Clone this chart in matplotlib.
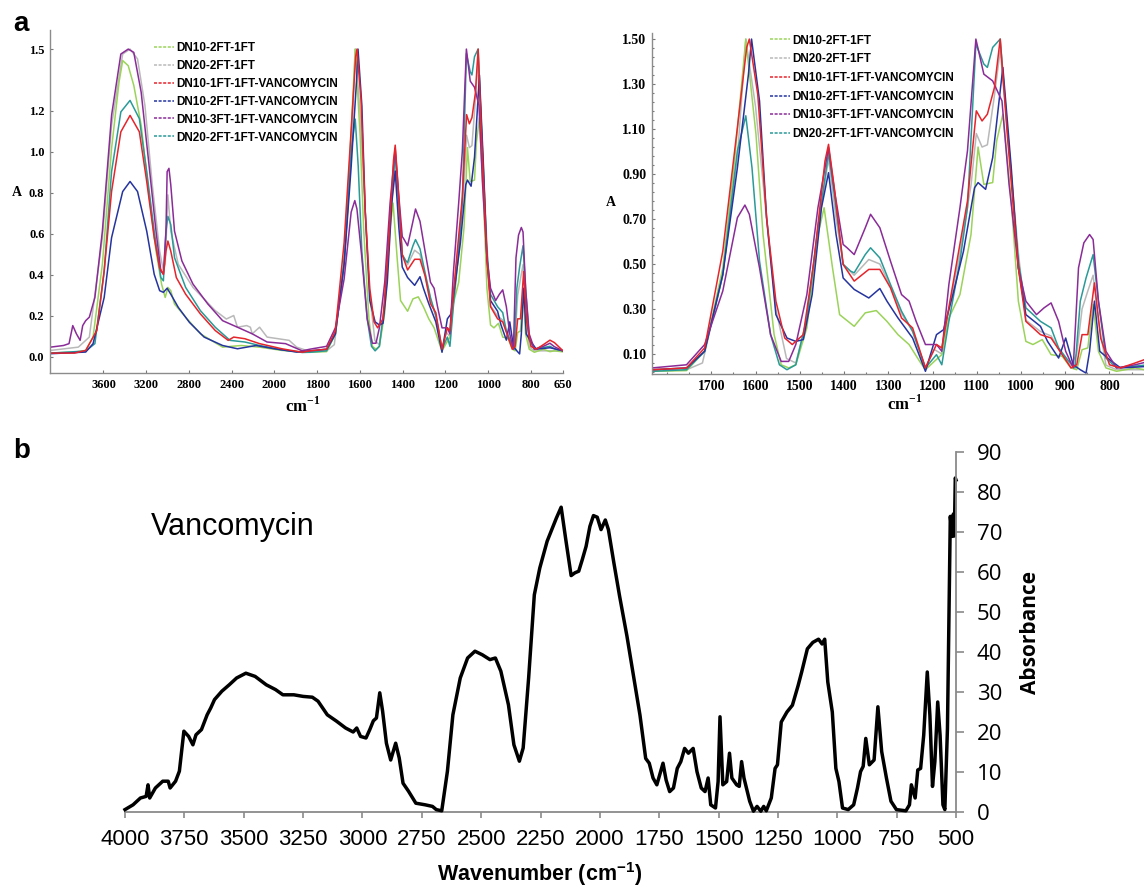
import numpy as np
import matplotlib
matplotlib.use('Agg')
import matplotlib.pyplot as plt
from matplotlib.lines import Line2D
from matplotlib.ticker import AutoMinorLocator, MultipleLocator

plt.rcParams['mathtext.fontset'] = 'custom'
plt.rcParams['mathtext.bf'] = 'Liberation Serif:bold'
plt.rcParams['mathtext.sf'] = 'Liberation Sans:bold'

# ---- data (a): FTIR spectra, wavenumber (cm-1) / absorbance ----
labels = ['DN10-2FT-1FT', 'DN20-2FT-1FT', 'DN10-1FT-1FT-VANCOMYCIN',
          'DN10-2FT-1FT-VANCOMYCIN', 'DN10-3FT-1FT-VANCOMYCIN',
          'DN20-2FT-1FT-VANCOMYCIN']
colors = ['#9bd35a', '#b9b9b9', '#e5242b', '#25349e', '#8a2c98', '#2a9a98']

wn_green = [4095, 3870, 3766, 3697, 3610, 3524, 3454, 3420, 3368, 3316, 3247, 3177, 3108, 3056, 3022, 2997, 2970, 2935,
            2831, 2693, 2485, 2312, 2139, 1965, 1870,
            1834, 1756, 1715, 1674, 1649, 1622, 1599, 1583, 1558, 1542, 1525, 1509, 1484, 1459, 1445, 1426, 1410, 1377,
            1352, 1327, 1303, 1278, 1253, 1229, 1216, 1196, 1179, 1163, 1138, 1113, 1097, 1084, 1064, 1055, 1041, 1022,
            1006, 989, 973, 952, 932, 907, 887, 874, 862, 849, 837, 825, 808, 784, 742, 711, 690, 650]
a_green = [0.019, 0.024, 0.032, 0.097, 0.452, 1.016, 1.339, 1.444, 1.419, 1.323, 1.129, 0.806, 0.516, 0.355, 0.29, 0.339,
           0.323, 0.258, 0.194, 0.113, 0.048, 0.056, 0.048, 0.032, 0.025,
           0.023, 0.026, 0.112, 0.483, 0.928, 1.50, 1.077, 0.631, 0.186, 0.052, 0.038, 0.052, 0.216, 0.631, 0.75, 0.483,
           0.275, 0.223, 0.283, 0.293, 0.245, 0.186, 0.142, 0.067, 0.030, 0.067, 0.097, 0.260, 0.364, 0.631, 1.02, 0.854,
           0.862, 1.047, 1.166, 0.780, 0.335, 0.156, 0.142, 0.164, 0.097, 0.090, 0.038, 0.030, 0.119, 0.127, 0.320,
           0.112, 0.038, 0.023, 0.038, 0.026, 0.030, 0.025]

wn_gray = [4095, 3835, 3732, 3610, 3524, 3420, 3351, 3281, 3212, 3143, 3074, 3039, 3022, 2997, 2970, 2900, 2762, 2554,
           2450, 2381, 2346, 2260, 2225, 2208, 2139, 2069, 1931, 1896, 1850,
           1834, 1756, 1720, 1674, 1640, 1622, 1600, 1575, 1554, 1530, 1509, 1484, 1459, 1435, 1418, 1402, 1377, 1344,
           1319, 1295, 1270, 1245, 1216, 1196, 1179, 1163, 1138, 1113, 1101, 1088, 1076, 1060, 1047, 1031, 1006, 989,
           956, 932, 907, 887, 874, 862, 849, 837, 825, 808, 784, 742, 711, 650]
a_gray = [0.032, 0.048, 0.097, 0.581, 1.129, 1.476, 1.50, 1.452, 1.226, 0.839, 0.516, 0.419, 0.452, 0.790, 0.613, 0.452,
          0.339, 0.226, 0.185, 0.202, 0.145, 0.153, 0.145, 0.113, 0.145, 0.097, 0.081, 0.048, 0.032,
          0.030, 0.030, 0.06, 0.45, 1.0, 1.5, 1.2, 0.7, 0.3, 0.08, 0.06, 0.25, 0.65, 0.97, 0.7, 0.5, 0.45, 0.52, 0.5,
          0.4, 0.28, 0.2, 0.04, 0.12, 0.1, 0.3, 0.55, 0.85, 1.08, 1.02, 1.03, 1.25, 1.45, 1.1, 0.55, 0.25, 0.2, 0.18,
          0.1, 0.05, 0.1, 0.3, 0.38, 0.45, 0.25, 0.05, 0.03, 0.03, 0.03, 0.03]

wn_red = [4095, 3870, 3766, 3662, 3593, 3524, 3437, 3351, 3264, 3195, 3125, 3074, 3039, 3015, 2997, 2970, 2918, 2831,
          2693, 2554, 2433, 2381, 2277, 2139, 1965, 1870,
          1834, 1756, 1715, 1674, 1641, 1620, 1614, 1595, 1575, 1554, 1534, 1517, 1492, 1468, 1443, 1435, 1422, 1402,
          1377, 1344, 1319, 1295, 1270, 1245, 1216, 1191, 1179, 1154, 1121, 1101, 1088, 1076, 1060, 1047, 1031, 1006,
          989, 956, 932, 907, 887, 874, 862, 849, 834, 820, 800, 775, 742, 711, 690, 650]
a_red = [0.019, 0.019, 0.032, 0.129, 0.419, 0.806, 1.097, 1.177, 1.097, 0.855, 0.581, 0.435, 0.403, 0.516, 0.565, 0.516,
         0.387, 0.306, 0.210, 0.129, 0.081, 0.097, 0.089, 0.065, 0.040, 0.023,
         0.030, 0.038, 0.127, 0.557, 1.107, 1.463, 1.50, 1.255, 0.706, 0.335, 0.171, 0.142, 0.186, 0.513, 0.958, 1.032,
         0.839, 0.498, 0.424, 0.476, 0.476, 0.394, 0.260, 0.216, 0.038, 0.142, 0.127, 0.409, 0.780, 1.181, 1.136,
         1.166, 1.285, 1.50, 1.077, 0.483, 0.245, 0.186, 0.171, 0.097, 0.038, 0.052, 0.186, 0.186, 0.416, 0.171,
         0.052, 0.038, 0.060, 0.082, 0.07, 0.03]

wn_blue = [4095, 3766, 3697, 3593, 3524, 3420, 3351, 3281, 3195, 3125, 3074, 3039, 3004, 2970, 2900, 2796, 2658, 2485,
           2346, 2173, 2000, 1896,
           1834, 1756, 1715, 1674, 1641, 1616, 1609, 1591, 1575, 1554, 1529, 1509, 1492, 1472, 1451, 1435, 1418, 1402,
           1377, 1344, 1319, 1303, 1278, 1245, 1216, 1191, 1175, 1154, 1130, 1105, 1097, 1080, 1064, 1041, 1022, 1006,
           989, 956, 940, 915, 899, 882, 866, 853, 845, 834, 822, 800, 775, 711, 690, 650]
a_blue = [0.016, 0.024, 0.065, 0.290, 0.581, 0.806, 0.855, 0.806, 0.613, 0.403, 0.323, 0.315, 0.335, 0.306, 0.242,
          0.169, 0.097, 0.056, 0.040, 0.056, 0.040, 0.024,
          0.030, 0.038, 0.112, 0.453, 0.928, 1.344, 1.50, 1.225, 0.706, 0.275, 0.171, 0.156, 0.164, 0.364, 0.750, 0.906,
          0.631, 0.438, 0.387, 0.349, 0.391, 0.335, 0.260, 0.171, 0.023, 0.186, 0.208, 0.364, 0.557, 0.839, 0.862,
          0.832, 0.973, 1.374, 0.928, 0.483, 0.275, 0.223, 0.156, 0.082, 0.171, 0.052, 0.030, 0.015, 0.112, 0.335,
          0.112, 0.075, 0.038, 0.045, 0.04, 0.03]

wn_purple = [4095, 3974, 3922, 3887, 3853, 3818, 3794, 3766, 3732, 3680, 3610, 3524, 3437, 3368, 3316, 3247, 3177, 3108,
             3063, 3039, 3015, 3004, 2987, 2970, 2935, 2866, 2762, 2623, 2485, 2346, 2208, 2069, 1948, 1870,
             1834, 1756, 1715, 1674, 1641, 1624, 1614, 1591, 1566, 1542, 1525, 1509, 1484, 1459, 1435, 1422, 1402,
             1393, 1377, 1352, 1340, 1319, 1295, 1270, 1253, 1237, 1216, 1191, 1179, 1163, 1138, 1121, 1102, 1084,
             1064, 1043, 1027, 1006, 989, 965, 948, 932, 915, 899, 882, 870, 858, 845, 837, 825, 808, 784, 742, 711,
             690, 650]
a_purple = [0.048, 0.056, 0.065, 0.153, 0.113, 0.081, 0.153, 0.177, 0.194, 0.290, 0.613, 1.177, 1.476, 1.50, 1.484,
            1.290, 0.952, 0.613, 0.419, 0.403, 0.613, 0.903, 0.919, 0.839, 0.613, 0.468, 0.355, 0.258, 0.177, 0.145,
            0.113, 0.073, 0.065, 0.03,
            0.038, 0.052, 0.142, 0.380, 0.706, 0.762, 0.721, 0.483, 0.186, 0.067, 0.067, 0.142, 0.364, 0.750, 1.017,
            0.832, 0.587, 0.572, 0.542, 0.661, 0.721, 0.661, 0.513, 0.364, 0.335, 0.245, 0.142, 0.142, 0.112, 0.409,
            0.750, 1.003, 1.50, 1.344, 1.314, 1.225, 0.854, 0.483, 0.335, 0.275, 0.305, 0.327, 0.245, 0.112, 0.038,
            0.483, 0.594, 0.631, 0.609, 0.335, 0.112, 0.038, 0.052, 0.067, 0.05, 0.03]

wn_teal = [4095, 3766, 3680, 3593, 3524, 3437, 3351, 3264, 3195, 3125, 3063, 3039, 3015, 2997, 2970, 2935, 2831, 2693,
           2554, 2416, 2277, 2139, 1965, 1870,
           1834, 1756, 1715, 1674, 1641, 1622, 1608, 1591, 1566, 1546, 1529, 1509, 1484, 1459, 1435, 1422, 1402, 1385,
           1377, 1352, 1340, 1319, 1295, 1270, 1245, 1216, 1191, 1179, 1163, 1138, 1121, 1102, 1084, 1076, 1064, 1047,
           1031, 1006, 989, 956, 932, 915, 895, 878, 866, 853, 837, 825, 808, 784, 711, 690, 650]
a_teal = [0.019, 0.029, 0.065, 0.419, 0.903, 1.194, 1.25, 1.161, 0.903, 0.613, 0.387, 0.371, 0.613, 0.685, 0.645, 0.484,
          0.339, 0.226, 0.145, 0.081, 0.073, 0.056, 0.035, 0.022,
          0.023, 0.030, 0.112, 0.453, 1.003, 1.159, 0.928, 0.513, 0.186, 0.052, 0.030, 0.052, 0.260, 0.661, 0.995,
          0.810, 0.498, 0.468, 0.461, 0.542, 0.572, 0.527, 0.409, 0.290, 0.201, 0.038, 0.097, 0.052, 0.245, 0.513,
          0.750, 1.478, 1.389, 1.374, 1.463, 1.50, 1.107, 0.513, 0.305, 0.245, 0.216, 0.127, 0.075, 0.038, 0.335,
          0.438, 0.542, 0.335, 0.082, 0.038, 0.052, 0.04, 0.03]

# ---- data (b): vancomycin ----
wn_vanc = [4000, 3966, 3935, 3911, 3903, 3896, 3872, 3841, 3818, 3810, 3787, 3771, 3752, 3732, 3714, 3701, 3678, 3654,
           3639, 3623, 3592, 3561, 3530, 3491, 3452, 3405, 3366, 3335, 3289, 3250, 3211, 3187, 3148, 3109, 3071, 3039,
           3024, 3008, 2985, 2969, 2954, 2941, 2927, 2915, 2899, 2881, 2860, 2845, 2829, 2806, 2775, 2736, 2705, 2689,
           2666, 2642, 2619, 2588, 2557, 2526, 2495, 2463, 2440, 2417, 2385, 2362, 2339, 2323, 2300, 2276, 2253, 2222,
           2183, 2163, 2144, 2121, 2105, 2089, 2074, 2058, 2042, 2027, 2011, 1995, 1977, 1964, 1941, 1917, 1886, 1854,
           1831, 1807, 1792, 1776, 1760, 1748, 1734, 1721, 1706, 1690, 1674, 1659, 1643, 1627, 1607, 1591, 1573, 1557,
           1544, 1533, 1513, 1502, 1494, 1482, 1466, 1454, 1444, 1424, 1413, 1403, 1393, 1369, 1353, 1338, 1322, 1310,
           1299, 1278, 1262, 1252, 1236, 1212, 1189, 1165, 1150, 1126, 1103, 1079, 1064, 1053, 1040, 1021, 1006, 993,
           978, 954, 931, 915, 902, 891, 880, 865, 845, 829, 813, 793, 774, 751, 711, 696, 688, 672, 661, 649, 636,
           621, 610, 599, 589, 577, 567, 555, 547, 536, 524, 516, 511, 507, 503, 500]
abs_vanc = [0.6, 1.8, 3.5, 3.9, 6.8, 3.5, 6.0, 7.7, 7.7, 6.0, 7.7, 10.2, 20.2, 18.9, 16.8, 19.3, 20.6, 24.3, 26.0, 28.1,
            30.2, 31.8, 33.5, 34.7, 33.9, 31.8, 30.6, 29.3, 29.3, 28.9, 28.7, 27.7, 24.3, 22.7, 21.0, 20.0, 21.0, 18.9,
            18.5, 20.6, 22.8, 23.5, 29.8, 25.2, 17.2, 13.0, 17.2, 13.5, 7.2, 5.2, 2.2, 1.8, 1.4, 0.6, 0.3, 10.2, 24.3,
            33.5, 38.5, 40.2, 39.3, 38.1, 38.5, 35.2, 26.8, 16.8, 12.7, 16.0, 33.5, 54.3, 61.0, 67.7, 73.5, 76.2, 68.3,
            59.1, 59.8, 60.2, 63.1, 66.4, 71.4, 74.1, 73.7, 70.6, 73.0, 70.6, 62.3, 54.0, 44.0, 32.5, 24.2, 13.4, 12.2,
            8.5, 6.8, 9.3, 12.2, 8.0, 5.1, 6.0, 10.9, 12.6, 15.9, 14.7, 15.9, 10.1, 6.0, 5.1, 8.5, 1.8, 1.0, 7.6, 23.8,
            6.8, 7.6, 14.7, 8.5, 6.8, 6.4, 12.6, 8.5, 2.7, 0.2, 1.4, 0.2, 1.4, 0.3, 3.5, 10.9, 11.8, 22.5, 25.0, 26.7,
            31.6, 35.0, 40.8, 42.4, 43.2, 42.0, 43.2, 32.5, 25.0, 10.9, 7.6, 1.0, 0.6, 1.8, 6.0, 10.1, 11.4, 18.4, 11.8,
            13.0, 26.3, 15.1, 8.5, 2.7, 0.6, 0.3, 1.8, 6.8, 3.5, 10.5, 10.9, 19.2, 35.0, 24.2, 6.4, 12.6, 27.5, 19.2,
            1.8, 0.6, 20.9, 73.9, 68.9, 74.5, 69.0, 83.5, 83.0]

# ---- layout helpers (pixel boxes of the 1144x891 figure) ----
W, H = 1144, 891
fig = plt.figure(figsize=(W / 100, H / 100), dpi=100)


def box(l, t, r, b):
    return [l / W, 1 - b / H, (r - l) / W, (b - t) / H]


def fx(x):
    return x / W


def fy(y):
    return 1 - y / H


def fwd(x):
    x = np.asarray(x, dtype=float)
    return np.where(x > 2000, 2000 + (x - 2000) / 2, x)


def inv(y):
    y = np.asarray(y, dtype=float)
    return np.where(y > 2000, 2000 + (y - 2000) * 2, y)


series = [(wn_gray, a_gray, 1), (wn_green, a_green, 0), (wn_teal, a_teal, 5),
          (wn_blue, a_blue, 3), (wn_purple, a_purple, 4), (wn_red, a_red, 2)]
serif_bold = dict(family='Liberation Serif', weight='bold')
spine_col = '#8c8c8c'


def style_top(ax, size):
    for s in ['top', 'right']:
        ax.spines[s].set_visible(False)
    for s in ['left', 'bottom']:
        ax.spines[s].set_color(spine_col)
        ax.spines[s].set_linewidth(1.0)
    ax.tick_params(which='both', colors='#777777', length=2.5, width=0.8, direction='in')
    ax.tick_params(which='minor', length=1.5)
    ax.tick_params(labelcolor='black', pad=4)
    for lab in ax.get_xticklabels() + ax.get_yticklabels():
        lab.set_fontfamily('Liberation Serif')
        lab.set_fontweight('bold')
        lab.set_fontsize(size)


def add_legend(ax, x, y, spacing):
    handles = [Line2D([], [], color=c, lw=1.1, ls=(0, (2, 1))) for c in colors]
    ax.legend(handles, labels, loc='upper left', bbox_to_anchor=(fx(x), fy(y)),
              bbox_transform=fig.transFigure, frameon=False, borderpad=0, borderaxespad=0,
              handlelength=1.7, handletextpad=0.15, labelspacing=spacing,
              prop=dict(family='Liberation Sans', weight='bold', size=8.5))


# ---- (a) left: full range ----
ax1 = fig.add_axes(box(50, 30, 563, 373))
for wn, a, i in series:
    ax1.plot(wn, a, color=colors[i], lw=1.1)
ax1.set_xscale('function', functions=(fwd, inv))
ax1.set_xlim(4100, 650)
ax1.set_ylim(-0.078, 1.593)
ax1.set_xticks([3600, 3200, 2800, 2400, 2000, 1800, 1600, 1400, 1200, 1000, 800, 650])
ax1.set_xticklabels(['3600', '3200', '2800', '2400', '2000', '1800', '1600', '1400', '1200', '1000', '800', '650'])
ax1.set_yticks([0.0, 0.2, 0.4, 0.6, 0.8, 1.0, 1.2, 1.5])
ax1.set_yticklabels(['0.0', '0.2', '0.4', '0.6', '0.8', '1.0', '1.2', '1.5'])
ax1.xaxis.set_minor_locator(plt.NullLocator())
style_top(ax1, 9)
add_legend(ax1, 154, 42, 0.50)
fig.text(fx(17), fy(193), 'A', ha='center', va='center', fontsize=10, **serif_bold)
fig.text(fx(303), fy(406), 'cm$^{\\mathbf{-1}}$', ha='center', va='center', fontsize=12, **serif_bold)

# ---- (a) right: fingerprint region ----
ax2 = fig.add_axes(box(652, 33, 1144, 374))
for wn, a, i in series:
    ax2.plot(wn, a, color=colors[i], lw=1.1)
ax2.set_xlim(1834, 722)
ax2.set_ylim(0.011, 1.527)
ax2.set_xticks([1700, 1600, 1500, 1400, 1300, 1200, 1100, 1000, 900, 800])
ax2.xaxis.set_minor_locator(MultipleLocator(50))
ax2.set_yticks([0.10, 0.30, 0.50, 0.70, 0.90, 1.10, 1.30, 1.50])
ax2.set_yticklabels(['0.10', '0.30', '0.50', '0.70', '0.90', '1.10', '1.30', '1.50'])
ax2.yaxis.set_minor_locator(AutoMinorLocator(5))
style_top(ax2, 10)
add_legend(ax2, 770, 34.5, 0.57)
fig.text(fx(611), fy(202), 'A', ha='center', va='center', fontsize=10, **serif_bold)
fig.text(fx(905), fy(404), 'cm$^{\\mathbf{-1}}$', ha='center', va='center', fontsize=12, **serif_bold)

# ---- (b) vancomycin ----
ax3 = fig.add_axes(box(125, 452, 956, 812))
ax3.plot(wn_vanc, abs_vanc, color='black', lw=2.5, solid_joinstyle='round')
ax3.set_xlim(4000, 500)
ax3.set_ylim(0, 90)
ax3.set_xticks(np.arange(4000, 499, -250))
ax3.set_yticks(np.arange(0, 91, 10))
ax3.yaxis.tick_right()
for s in ['top', 'left']:
    ax3.spines[s].set_visible(False)
for s in ['bottom', 'right']:
    ax3.spines[s].set_color('#8a8a8a')
    ax3.spines[s].set_linewidth(1.3)
ax3.spines['bottom'].set_zorder(0)
ax3.tick_params(axis='x', direction='out', length=4, width=1.2, color='#8a8a8a', pad=8, labelsize=16)
ax3.tick_params(axis='y', direction='out', length=6, width=1.2, color='#8a8a8a', pad=9, labelsize=16)
for lab in ax3.get_xticklabels():
    lab.set_fontfamily('Liberation Sans')
for lab in ax3.get_yticklabels():
    lab.set_fontfamily('Open Sans')
for line in ax3.lines:
    line.set_clip_on(False)

fig.text(fx(233), fy(527), 'Vancomycin', ha='center', va='center', fontsize=22, family='Liberation Sans')
fig.text(fx(1030), fy(633), 'Absorbance', ha='center', va='center', rotation=90, fontsize=15,
         family='Open Sans', weight='bold')
fig.text(fx(540), fy(874), 'Wavenumber (cm$^{\\mathsf{-1}}$)', ha='center', va='center', fontsize=15.5,
         family='Liberation Sans', weight='bold')

# panel letters
fig.text(fx(21), fy(24), 'a', ha='center', va='center', fontsize=20, family='Liberation Sans', weight='bold')
fig.text(fx(22), fy(451), 'b', ha='center', va='center', fontsize=20, family='Liberation Sans', weight='bold')

fig.savefig('out.png', dpi=100)
